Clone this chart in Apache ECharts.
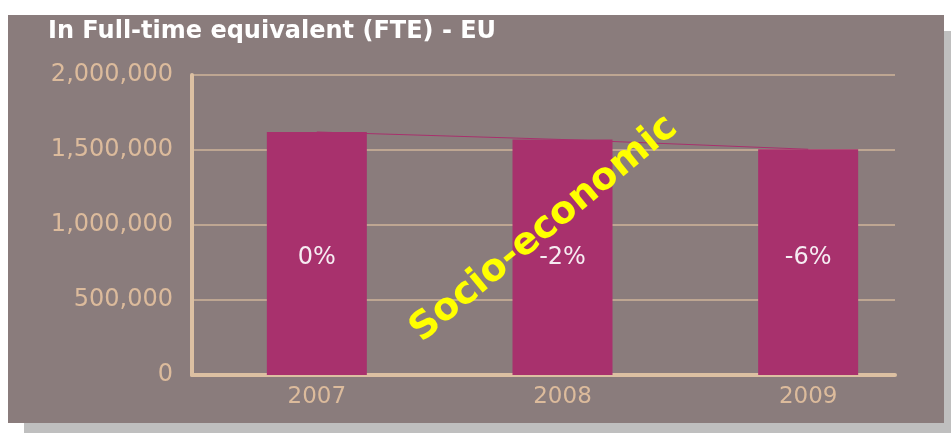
<!DOCTYPE html>
<html>
<head>
<meta charset="utf-8">
<script src="https://cdn.jsdelivr.net/npm/echarts@6/dist/echarts.min.js"></script>
<style>
html,body{margin:0;padding:0;background:#ffffff;}
#chart{width:951px;height:433px;}
</style>
</head>
<body>
<div id="chart"></div>
<script>
const categories = ['2007', '2008', '2009'];
const fteValues = [1620000, 1570000, 1505000];
const changeLabels = ['0%', '-2%', '-6%'];
const yTicks = [0, 500000, 1000000, 1500000, 2000000];
const titleText = 'In Full-time equivalent (FTE) - EU';
const stampText = 'Socio-economic';

const tan = '#dcbb9c';
const gridTop = 75, gridBottom = 433 - 375;

const chart = echarts.init(document.getElementById('chart'), null, {renderer: 'canvas'});
chart.setOption({
  animation: false,
  backgroundColor: '#ffffff',
  graphic: [
    {type: 'rect', z: -10, shape: {x: 24, y: 31, width: 927, height: 402}, style: {fill: '#bfbfbf'}},
    {type: 'rect', z: -9, shape: {x: 8, y: 15, width: 936, height: 408}, style: {fill: '#8a7c7c'}},
    {type: 'text', z: 50, left: 48, top: 20, style: {text: titleText, fill: '#ffffff', font: 'bold 24px "DejaVu Sans"'}},
    {type: 'text', z: 100, x: 544, y: 229, rotation: 0.69,
      style: {text: stampText, fill: '#ffff00', font: 'bold 38px "DejaVu Sans"', align: 'center', verticalAlign: 'middle',
        shadowColor: 'rgba(40,40,40,0.85)', shadowBlur: 4, shadowOffsetX: 3, shadowOffsetY: 3}}
  ],
  grid: [
    {left: 192, right: 951 - 895, top: gridTop, bottom: gridBottom},
    {left: 194, width: 737, top: gridTop, bottom: gridBottom}
  ],
  xAxis: [
    {type: 'category', gridIndex: 0, data: categories, boundaryGap: true,
      axisLine: {show: true, lineStyle: {color: '#dcc0a2', width: 4}},
      axisTick: {show: false}, axisLabel: {show: false}, splitLine: {show: false}},
    {type: 'category', gridIndex: 1, data: categories, boundaryGap: true,
      axisLine: {show: false}, axisTick: {show: false},
      axisLabel: {show: true, color: tan, fontFamily: 'DejaVu Sans', fontWeight: 'normal', fontSize: 23, margin: 11},
      splitLine: {show: false}}
  ],
  yAxis: [
    {type: 'value', gridIndex: 0, min: yTicks[0], max: yTicks[yTicks.length - 1], interval: yTicks[1] - yTicks[0],
      axisLine: {show: true, lineStyle: {color: '#dcc0a2', width: 4}},
      axisTick: {show: false},
      axisLabel: {color: tan, fontFamily: 'DejaVu Sans', fontWeight: 'normal', fontSize: 24, margin: 19,
        formatter: v => v.toLocaleString('en-US')},
      splitLine: {show: true, lineStyle: {color: '#cfb49a', width: 1.5}}},
    {type: 'value', gridIndex: 1, min: yTicks[0], max: yTicks[yTicks.length - 1], interval: yTicks[1] - yTicks[0],
      show: false, splitLine: {show: false}}
  ],
  series: [
    {type: 'line', xAxisIndex: 1, yAxisIndex: 1, data: fteValues, z: 1, symbol: 'none',
      lineStyle: {color: '#a8316d', width: 1.2}},
    {type: 'bar', xAxisIndex: 1, yAxisIndex: 1, data: fteValues, z: 3, barWidth: 100,
      itemStyle: {color: '#a8316d'},
      label: {show: true, position: 'insideBottom', distance: 105, color: '#f6ecf2', fontFamily: 'DejaVu Sans', fontWeight: 'normal', fontSize: 24,
        formatter: p => changeLabels[p.dataIndex]}}
  ]
});
</script>
</body>
</html>
